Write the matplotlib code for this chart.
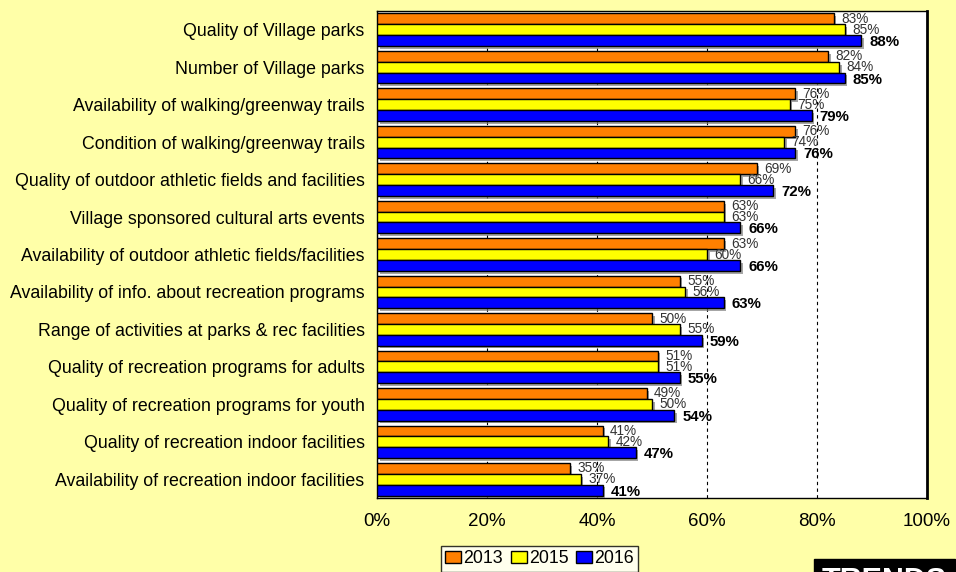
import matplotlib
matplotlib.use("Agg")
import matplotlib.pyplot as plt
import matplotlib.patheffects as pe
import numpy as np

# data (percent satisfied)
categories = [
    "Quality of Village parks",
    "Number of Village parks",
    "Availability of walking/greenway trails",
    "Condition of walking/greenway trails",
    "Quality of outdoor athletic fields and facilities",
    "Village sponsored cultural arts events",
    "Availability of outdoor athletic fields/facilities",
    "Availability of info. about recreation programs",
    "Range of activities at parks & rec facilities",
    "Quality of recreation programs for adults",
    "Quality of recreation programs for youth",
    "Quality of recreation indoor facilities",
    "Availability of recreation indoor facilities",
]
vals_2013 = [83, 82, 76, 76, 69, 63, 63, 55, 50, 51, 49, 41, 35]
vals_2015 = [85, 84, 75, 74, 66, 63, 60, 56, 55, 51, 50, 42, 37]
vals_2016 = [88, 85, 79, 76, 72, 66, 66, 63, 59, 55, 54, 47, 41]
years = ["2013", "2015", "2016"]
xticks = [0, 20, 40, 60, 80, 100]

bg = "#FFFFA8"
colors = ["#FF8000", "#FFFF00", "#0000FF"]

plt.rcParams["font.family"] = ["Liberation Sans", "DejaVu Sans"]

fig = plt.figure(figsize=(9.56, 5.72), dpi=100, facecolor=bg)
ax = fig.add_axes([377 / 956, 1 - 498 / 572, 550 / 956, 487 / 572])
ax.set_facecolor("white")

n = len(categories)
y = np.arange(n)
h = 0.29
shadow = [pe.SimplePatchShadow(offset=(2, -2), shadow_rgbFace="#808080", alpha=0.7), pe.Normal()]

series = [vals_2013, vals_2015, vals_2016]
for i, (vals, col, yr) in enumerate(zip(series, colors, years)):
    pos = y + (i - 1) * h
    bars = ax.barh(pos, vals, height=h, color=col, edgecolor="black", linewidth=1.0,
                   label=yr, zorder=3)
    for b in bars:
        b.set_path_effects(shadow)
    for p, v in zip(pos, vals):
        if i == 2:
            ax.text(v + 1.5, p + 0.04, f"{v}%", fontsize=10.8, fontweight="bold",
                    va="center", ha="left", color="black", zorder=5)
        else:
            ax.text(v + 1.4, p, f"{v}%", fontsize=9.8, va="center", ha="left",
                    color="#333333", zorder=5)

ax.set_xlim(0, 100)
ax.set_ylim(n - 0.5, -0.5)
ax.set_yticks(y)
ax.set_yticklabels(categories, fontsize=12.8)
ax.set_xticks(xticks)
ax.set_xticklabels([f"{t}%" for t in xticks], fontsize=13.5)
ax.tick_params(axis="y", length=0, pad=9)
ax.tick_params(axis="x", length=0, pad=11)

ax.grid(axis="x", linestyle=(0, (3, 3)), color="black", linewidth=0.8, zorder=0)
ax.set_axisbelow(True)
for side in ["top", "bottom", "left"]:
    ax.spines[side].set_color("black")
    ax.spines[side].set_linewidth(1.0)
ax.spines["right"].set_linewidth(2.0)

leg = fig.legend(loc="upper left", bbox_to_anchor=(441 / 956, 1 - 546 / 572), ncol=3,
                 fontsize=12.8, frameon=True, fancybox=False, edgecolor="black",
                 handlelength=0.9, handleheight=0.7, handletextpad=0.1,
                 columnspacing=0.45, borderpad=0.25, borderaxespad=0)
leg.get_frame().set_linewidth(1.0)
for hnd in leg.legend_handles:
    hnd.set_path_effects([])

fig.text(822 / 956, 1 - 567 / 572, "TRENDS", color="white", fontsize=22, fontweight="bold",
         va="top", ha="left", bbox=dict(facecolor="black", edgecolor="black", pad=6))

fig.savefig("out.png", dpi=100, facecolor=bg)
